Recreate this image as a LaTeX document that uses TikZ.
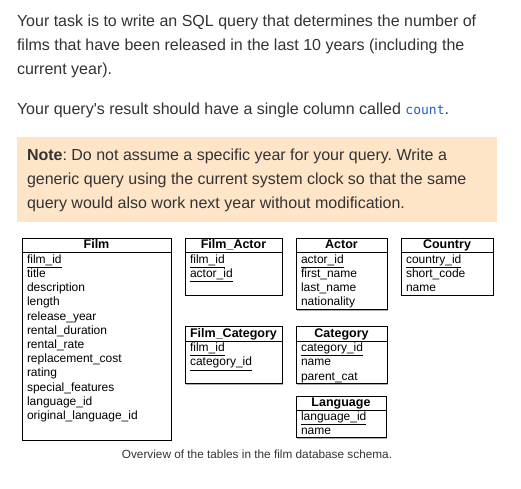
\documentclass[tikz,border=0pt]{standalone}
\usepackage{fontspec}
\setmainfont{Liberation Sans}
\newfontfamily\codefont{DejaVu Sans Mono}
\usetikzlibrary{calc}
\definecolor{notebg}{RGB}{254,229,200}
\definecolor{txt}{RGB}{51,51,51}
\definecolor{codeblue}{RGB}{30,95,200}
\newcommand\dbbox[6]{% name, x, y, w, h, header
  \fill[gray!65] (#2+1.2,#3+1.2) rectangle ++(#4,#5);
  \node[tbl, anchor=north west, minimum width=#4pt, minimum height=#5pt] (#1) at (#2,#3) {};
  \draw[tblline] ([yshift=-14.5pt]#1.north west) -- ([yshift=-14.5pt]#1.north east);
  \node[hdr] (#1-h) at ([yshift=-10.5pt]#1.north) {#6};
}
\frenchspacing
\begin{document}
\begin{tikzpicture}[x=1pt,y=-1pt,
  every node/.style={inner sep=0pt, outer sep=0pt},
  para/.style={anchor=base west, font=\fontsize{16}{19}\selectfont\frenchspacing, text=txt},
  tbl/.style={draw=black, line width=0.9pt, fill=white},
  tblline/.style={draw=black, line width=0.9pt},
  hdr/.style={anchor=base, font=\fontsize{12.5}{14}\selectfont\bfseries},
  row/.style={anchor=base west, font=\fontsize{12}{14}\selectfont},
]
\useasboundingbox (0,0) rectangle (521,488);
\fill[white] (0,0) rectangle (521,488);

% paragraph text
\node[para] (p1) at (17,26.5) {Your task is to write an SQL query that determines the number of};
\node[para] (p2) at (17,50.5) {films that have been released in the last 10 years (including the};
\node[para] (p3) at (17,74.5) {current year).};
\node[para] (p4) at (17,114.3) {Your query\textquotesingle s result should have a single column called {\codefont\fontsize{13}{15}\selectfont\color{codeblue}count}.};

% note box
\node[fill=notebg, minimum width=480pt, minimum height=85pt, anchor=north west] (note) at (17,137) {};
\node[para] (n1) at (27,160) {\textbf{Note}: Do not assume a specific year for your query. Write a};
\node[para] (n2) at (27,184) {generic query using the current system clock so that the same};
\node[para] (n3) at (27,208) {query would also work next year without modification.};

% tables
\dbbox{film}{22}{238.3}{149}{201.7}{Film}
\node[row] (film-1) at (27,263.3) {\underline{film\_id}};
\node[row] (film-2) at (27,277.5) {title};
\node[row] (film-3) at (27,291.7) {description};
\node[row] (film-4) at (27,305.9) {length};
\node[row] (film-5) at (27,320.1) {release\_year};
\node[row] (film-6) at (27,334.3) {rental\_duration};
\node[row] (film-7) at (27,348.5) {rental\_rate};
\node[row] (film-8) at (27,362.7) {replacement\_cost};
\node[row] (film-9) at (27,376.9) {rating};
\node[row] (film-10) at (27,391.1) {special\_features};
\node[row] (film-11) at (27,405.3) {language\_id};
\node[row] (film-12) at (27,419.5) {original\_language\_id};

\dbbox{fa}{185}{238.3}{97}{56.7}{Film\_Actor}
\node[row] (fa-1) at (190,263.3) {\underline{film\_id}};
\node[row] (fa-2) at (190,277.5) {\underline{actor\_id}};

\dbbox{actor}{296}{238.3}{91}{71}{Actor}
\node[row] (actor-1) at (301,263.3) {\underline{actor\_id}};
\node[row] (actor-2) at (301,277.5) {first\_name};
\node[row] (actor-3) at (301,291.7) {last\_name};
\node[row] (actor-4) at (301,305.9) {nationality};

\dbbox{country}{401}{238.3}{92}{56.7}{Country}
\node[row] (country-1) at (406,263.3) {\underline{country\_id}};
\node[row] (country-2) at (406,277.5) {short\_code};
\node[row] (country-3) at (406,291.7) {name};

\dbbox{fc}{185}{326.7}{97}{56.6}{Film\_Category}
\node[row] (fc-1) at (190,351.7) {\underline{film\_id}};
\node[row] (fc-2) at (190,365.9) {\underline{category\_id}};

\dbbox{cat}{296}{326.7}{91}{56.6}{Category}
\node[row] (cat-1) at (301,351.7) {\underline{category\_id}};
\node[row] (cat-2) at (301,365.9) {name};
\node[row] (cat-3) at (301,380.1) {parent\_cat};

\dbbox{lang}{296}{396}{90}{41.5}{Language}
\node[row] (lang-1) at (301,420.5) {\underline{language\_id}};
\node[row] (lang-2) at (301,434.5) {name};

% caption
\node[anchor=base, font=\fontsize{11.8}{13}\selectfont, text=txt] (cap) at (257,458) {Overview of the tables in the film database schema.};
\end{tikzpicture}
\end{document}
